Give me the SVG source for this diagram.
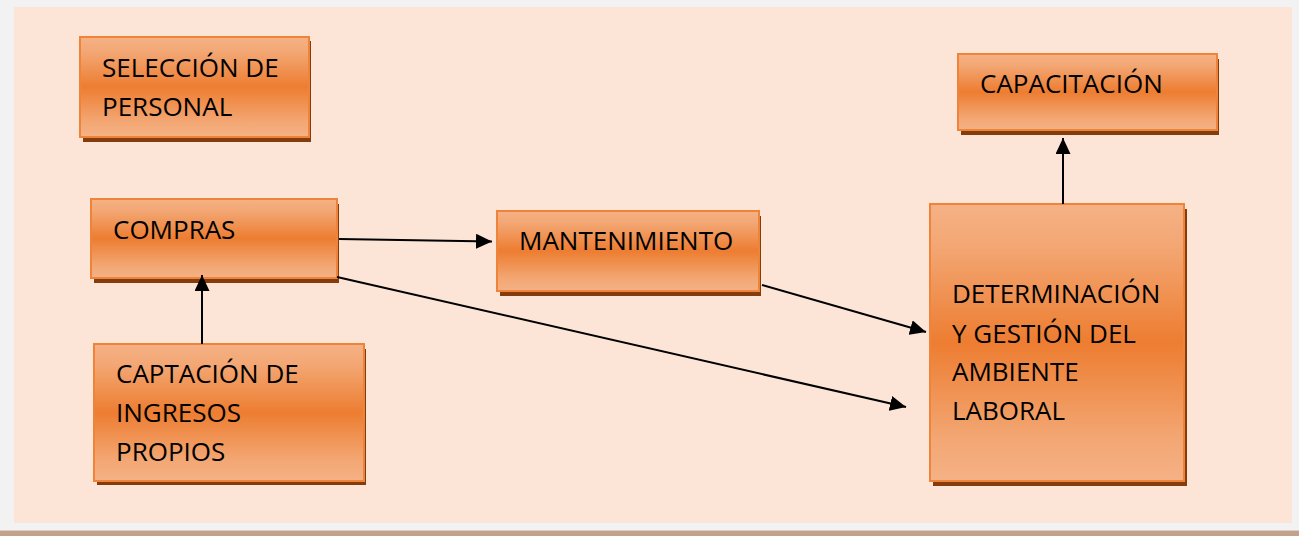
<svg xmlns="http://www.w3.org/2000/svg" width="1299" height="539" viewBox="0 0 1299 539">
<defs>
<linearGradient id="g" x1="0" y1="0" x2="0" y2="1">
<stop offset="0" stop-color="#f5b185"/>
<stop offset="0.15" stop-color="#f3a774"/>
<stop offset="0.5" stop-color="#ed7d31"/>
<stop offset="0.85" stop-color="#f3a774"/>
<stop offset="1" stop-color="#f5b185"/>
</linearGradient>
<marker id="ah" viewBox="0 0 16 15" refX="16" refY="7.5" markerWidth="16" markerHeight="15" markerUnits="userSpaceOnUse" orient="auto">
<path d="M0,0 L16,7.5 L0,15 Z" fill="#000"/>
</marker>
</defs>
<style>
.sh{fill:#843c0c}
.bx{fill:url(#g);stroke:#ee8439;stroke-width:2}
.t{font-family:"Open Sans","Liberation Sans",sans-serif;font-size:26px;fill:#000}
.c{stroke:#000;stroke-width:2;fill:none;marker-end:url(#ah)}
</style>
<rect x="0" y="0" width="1299" height="539" fill="#ffffff"/>
<rect x="0" y="0" width="1299" height="530" fill="#f2f2f2"/>
<rect x="14" y="7" width="1278" height="516" fill="#fce4d6"/>
<rect x="0" y="530" width="1299" height="1" fill="#d8d0c8"/>
<rect x="0" y="531" width="1299" height="5" fill="#c4a18b"/>
<g id="seleccion">
<rect class="sh" x="83" y="41" width="228" height="101"/>
<rect class="bx" x="80" y="37" width="229" height="100"/>
<text class="t" x="102" y="77">SELECCIÓN DE</text>
<text class="t" x="102" y="116">PERSONAL</text>
</g>
<g id="compras">
<rect class="sh" x="94" y="204" width="245" height="79"/>
<rect class="bx" x="91" y="199" width="246" height="79"/>
<text class="t" x="113" y="239">COMPRAS</text>
</g>
<g id="captacion">
<rect class="sh" x="97" y="349" width="269" height="136"/>
<rect class="bx" x="94" y="344" width="270" height="137"/>
<text class="t" x="116" y="383">CAPTACIÓN DE</text>
<text class="t" x="116" y="422">INGRESOS</text>
<text class="t" x="116" y="461">PROPIOS</text>
</g>
<g id="mantenimiento">
<rect class="sh" x="500" y="216" width="261" height="80"/>
<rect class="bx" x="497" y="211" width="262" height="80"/>
<text class="t" x="519" y="250">MANTENIMIENTO</text>
</g>
<g id="determinacion">
<rect class="sh" x="933" y="209" width="254" height="277"/>
<rect class="bx" x="930" y="204" width="254" height="277"/>
<text class="t" x="952" y="303">DETERMINACIÓN</text>
<text class="t" x="952" y="343">Y GESTIÓN DEL</text>
<text class="t" x="952" y="381">AMBIENTE</text>
<text class="t" x="952" y="420">LABORAL</text>
</g>
<g id="capacitacion">
<rect class="sh" x="961" y="59" width="258" height="76"/>
<rect class="bx" x="958" y="54" width="259" height="76"/>
<text class="t" x="980" y="93">CAPACITACIÓN</text>
</g>
<g id="connectors">
<line class="c" x1="202" y1="344" x2="202" y2="275"/>
<line class="c" x1="339" y1="239" x2="492" y2="241.5"/>
<line class="c" x1="337" y1="277" x2="906" y2="407"/>
<line class="c" x1="762" y1="285" x2="926" y2="332"/>
<line class="c" x1="1063" y1="204" x2="1063" y2="138"/>
</g>
</svg>
